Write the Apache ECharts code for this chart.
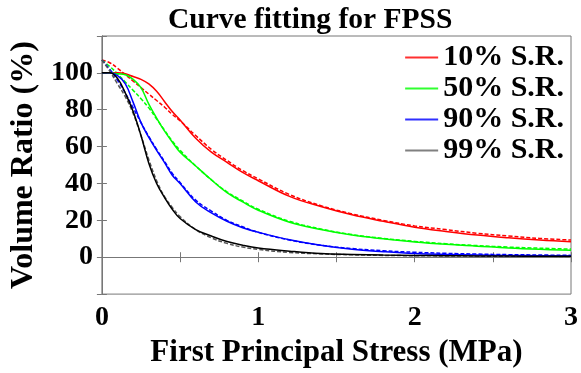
<!DOCTYPE html>
<html>
<head>
<meta charset="utf-8">
<script src="https://cdn.jsdelivr.net/npm/echarts@6/dist/echarts.min.js"></script>
<style>
  html, body { margin: 0; padding: 0; background: #fff; }
  #main { width: 581px; height: 373px; }
</style>
</head>
<body>
<div id="main"></div>
<script>
// stress values (MPa)
var stress = [0, 0.05, 0.1, 0.15, 0.2, 0.25, 0.3, 0.35, 0.4, 0.45, 0.5, 0.6, 0.7, 0.8, 0.9, 1.0,
  1.2, 1.4, 1.6, 1.8, 2.0, 2.2, 2.4, 2.6, 2.8, 3.0];

// measured volume ratio (%)
var sr10 = [100, 100, 100, 99.5, 98, 96.5, 94, 90, 84.5, 79, 74.5, 64.5, 57, 51.5, 46, 41.5,
  33, 27.5, 23, 19.5, 16.3, 14, 12, 10.5, 9.3, 8.4];
var sr50 = [100, 100, 99.5, 99, 96.5, 92, 83, 75.5, 68.5, 62.5, 57, 49.5, 42, 35, 30, 25.5,
  19, 15, 12, 10, 8.3, 7, 6, 5, 4.3, 3.8];
var sr90 = [100, 100, 98.5, 94, 84, 73, 65, 58, 51.5, 44.5, 40, 30, 24, 19.5, 16, 13.5,
  9.5, 6.5, 4.3, 3, 2, 1.5, 1.2, 1, 0.8, 0.6];
var sr99 = [100, 100, 97, 89, 79, 66, 51, 40, 32.5, 26, 21, 15, 11.5, 8.5, 6.5, 5,
  3.3, 2, 1.5, 1.2, 1, 0.8, 0.7, 0.6, 0.5, 0.5];

// fitted curves
var fit10 = [107, 105.5, 102.5, 99, 95.5, 92, 88.5, 85, 81.5, 77.5, 74, 66, 58.5, 52.5, 47, 42.5,
  34, 28, 23.5, 20, 17, 15, 13, 11.5, 10.2, 9.3];
var fit50 = [107, 103.5, 99.5, 95, 90.5, 86, 81, 75, 69, 63, 58, 49.5, 42, 35.5, 30.5, 26,
  19.5, 15.3, 12.3, 10.2, 8.6, 7.3, 6.3, 5.5, 4.9, 4.4];
var fit90 = [107, 102, 96, 89, 81, 73, 65.5, 58.5, 52, 45.5, 40.5, 31, 25, 20, 16.5, 13.5,
  9.3, 6.5, 4.7, 3.5, 2.7, 2.1, 1.7, 1.4, 1.2, 1.0];
var fit99 = [107, 101, 94, 87, 78, 66, 53, 41.5, 33, 27, 22, 15, 10.5, 7.5, 5.5, 4.2,
  2.6, 1.8, 1.3, 1.0, 0.8, 0.7, 0.6, 0.5, 0.5, 0.4];

var names = ['10% S.R.', '50% S.R.', '90% S.R.', '99% S.R.'];
var colors = ['#ff0000', '#00ff00', '#0000ff', '#000000'];
var fitColors = ['#ff0000', '#00ff00', '#0000ff', '#555555'];
var legendColors = ['#ff3030', '#30ff30', '#3030ff', '#808080'];
var measured = [sr10, sr50, sr90, sr99];
var fitted = [fit10, fit50, fit90, fit99];

var font = 'Liberation Serif';

function pairs(ys) {
  return stress.map(function (x, i) { return [x, ys[i]]; });
}

var series = [];
for (var i = 0; i < 4; i++) {
  series.push({
    name: names[i],
    type: 'line',
    data: pairs(measured[i]),
    symbol: 'none',
    smooth: 0.4,
    z: 3,
    lineStyle: { color: colors[i], width: 1.5 },
    itemStyle: { color: colors[i] }
  });
  series.push({
    name: names[i] + ' fit',
    type: 'line',
    data: pairs(fitted[i]),
    symbol: 'none',
    smooth: 0.4,
    z: 2,
    lineStyle: { color: fitColors[i], width: 1.5, type: [4, 2] }
  });
}

var option = {
  animation: false,
  backgroundColor: '#fff',
  title: {
    text: 'Curve fitting for FPSS',
    left: 163,
    top: 0,
    textStyle: { fontFamily: font, fontWeight: 'bold', fontSize: 29.5, color: '#000' }
  },
  legend: {
    data: names.map(function (n, k) { return { name: n, itemStyle: { color: legendColors[k] } }; }),
    right: 12,
    top: 37,
    orient: 'vertical',
    itemWidth: 33,
    itemHeight: 2,
    itemGap: 0,
    icon: 'rect',
    textStyle: { fontFamily: font, fontWeight: 'bold', fontSize: 30, lineHeight: 31, color: '#000' }
  },
  grid: {
    left: 101, right: 4, top: 36, bottom: 72,
    show: true, borderColor: '#777', borderWidth: 1
  },
  xAxis: [{
    type: 'value',
    min: 0, max: 3, interval: 0.5,
    name: 'First Principal Stress (MPa)',
    nameLocation: 'middle',
    nameGap: 27,
    nameTextStyle: { fontFamily: font, fontWeight: 'bold', fontSize: 31, color: '#000' },
    axisLine: { show: true, lineStyle: { color: '#777' } },
    axisTick: { show: true, inside: true, length: 5, lineStyle: { color: '#777' } },
    splitLine: { show: false },
    axisLabel: {
      margin: 10,
      fontFamily: font, fontWeight: 'bold', fontSize: 28, color: '#000',
      formatter: function (v) { return v % 1 === 0 ? String(v) : ''; }
    }
  }, {
    type: 'value',
    position: 'top',
    min: 0, max: 3, interval: 0.5,
    axisLine: { show: true, lineStyle: { color: '#777' } },
    axisTick: { show: true, inside: true, length: 5, lineStyle: { color: '#777' } },
    axisLabel: { show: false },
    splitLine: { show: false }
  }],
  yAxis: [{
    type: 'value',
    min: -20, max: 120, interval: 20,
    name: 'Volume Ratio (%)',
    nameLocation: 'middle',
    nameGap: 60,
    nameTextStyle: { fontFamily: font, fontWeight: 'bold', fontSize: 32, color: '#000' },
    axisLine: { show: true, lineStyle: { color: '#777' } },
    axisTick: { show: true, inside: true, length: 5, lineStyle: { color: '#777' } },
    splitLine: { show: false },
    axisLabel: {
      margin: 9,
      fontFamily: font, fontWeight: 'bold', fontSize: 28, color: '#000',
      formatter: function (v) { return (v < 0 || v > 100) ? '' : String(v); }
    }
  }, {
    type: 'value',
    position: 'right',
    min: -20, max: 120, interval: 20,
    axisLine: { show: true, lineStyle: { color: '#777' } },
    axisTick: { show: true, inside: true, length: 5, lineStyle: { color: '#777' } },
    axisLabel: { show: false },
    splitLine: { show: false }
  }],
  series: series
};

var chart = echarts.init(document.getElementById('main'));
chart.setOption(option);
</script>
</body>
</html>
